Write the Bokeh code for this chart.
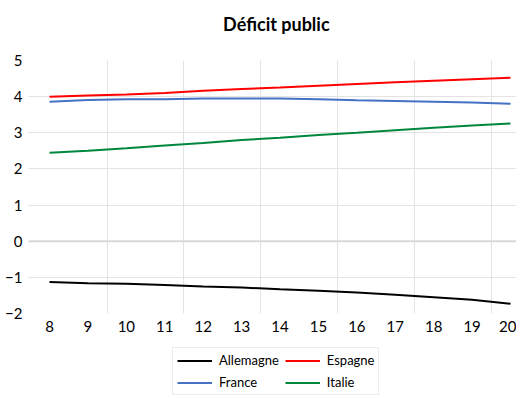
from bokeh.plotting import figure
from bokeh.models import Range1d, FixedTicker, Legend, LegendItem, Span, Label
from bokeh.layouts import column
from bokeh.embed import file_html
from bokeh.resources import INLINE

years = [8, 9, 10, 11, 12, 13, 14, 15, 16, 17, 18, 19, 20]
allemagne = [-1.13, -1.16, -1.18, -1.21, -1.25, -1.28, -1.33, -1.37, -1.42, -1.48, -1.55, -1.62, -1.73]
espagne = [4.0, 4.03, 4.06, 4.1, 4.16, 4.21, 4.25, 4.3, 4.35, 4.4, 4.44, 4.48, 4.52]
france = [3.86, 3.91, 3.93, 3.93, 3.95, 3.95, 3.95, 3.93, 3.9, 3.88, 3.86, 3.84, 3.8]
italie = [2.45, 2.5, 2.57, 2.65, 2.72, 2.8, 2.86, 2.94, 3.0, 3.07, 3.14, 3.2, 3.26]
y_ticks = [-2, -1, 0, 1, 2, 3, 4, 5]
x_grid = [9.5, 11.5, 13.5, 15.5, 17.5, 19.5]
series_names = ["Allemagne", "Espagne", "France", "Italie"]
colors = ["#000000", "#ff0000", "#4472c4", "#00873e"]
title_text = "Déficit public"

FONT = "Lato"
X0, X1 = 7.453, 20.156

# title panel
p0 = figure(width=516, height=46, output_backend="svg", toolbar_location=None,
            x_range=Range1d(X0, X1), y_range=Range1d(0, 1),
            min_border_left=28, min_border_right=0, min_border_top=0, min_border_bottom=0)
p0.title = None
p0.outline_line_color = None
p0.axis.visible = False
p0.grid.visible = False
p0.add_layout(Label(x=(X0 + X1) / 2 + 0.1, y=0.5, text=title_text, text_align="center",
                    text_baseline="middle", text_font=FONT, text_font_size="18px",
                    text_font_style="bold", text_color="#000000"))

p = figure(width=516, height=292, output_backend="svg", toolbar_location=None,
           x_range=Range1d(X0, X1), y_range=Range1d(-2, 5),
           min_border_left=28, min_border_right=0, min_border_top=14, min_border_bottom=25)
p.title = None
p.outline_line_color = None

p.xaxis.ticker = FixedTicker(ticks=years)
p.yaxis.ticker = FixedTicker(ticks=y_ticks)
for ax in (p.xaxis[0], p.yaxis[0]):
    ax.axis_line_color = None
    ax.major_tick_line_color = None
    ax.minor_tick_line_color = None
    ax.major_tick_out = 0
    ax.major_label_text_font = FONT
    ax.major_label_text_font_size = "15px"
    ax.major_label_text_color = "#000000"
p.xaxis.major_label_standoff = 7
p.yaxis.major_label_standoff = 6

p.xgrid.ticker = FixedTicker(ticks=x_grid)
p.ygrid.ticker = FixedTicker(ticks=[-1, 0, 1, 2, 3, 4])
p.xgrid.grid_line_color = "#e3e3e3"
p.ygrid.grid_line_color = "#e3e3e3"
p.add_layout(Span(location=0, dimension="width", line_color="#d9d9d9", line_width=2))

for name, data, c in zip(series_names, [allemagne, espagne, france, italie], colors):
    p.line(years, data, line_color=c, line_width=2)

# legend panel (its lines sit outside the visible range; only the legend shows)
p2 = figure(width=516, height=58, output_backend="svg", toolbar_location=None,
            x_range=Range1d(0, 1), y_range=Range1d(0, 1),
            min_border_left=0, min_border_right=0, min_border_top=0, min_border_bottom=0)
p2.title = None
p2.outline_line_color = None
p2.axis.visible = False
p2.grid.visible = False
rmap = {}
for name, c in zip(series_names, colors):
    rmap[name] = p2.line(x=[5, 6], y=[5, 6], line_color=c, line_width=2)

order = ["Allemagne", "France", "Espagne", "Italie"]
items = [LegendItem(label=n, renderers=[rmap[n]]) for n in order]
legend = Legend(items=items, ncols=2, location=(144, 1), orientation="vertical",
                label_text_font=FONT, label_text_font_size="13px", label_text_color="#000000",
                glyph_width=35, glyph_height=15, label_height=15, spacing=6, padding=4,
                margin=0, border_line_color="#d9d9d9", label_standoff=7)
p2.add_layout(legend, "center")

layout = column(p0, p, p2, spacing=0)
open("out.html", "w").write(file_html(layout, INLINE))
